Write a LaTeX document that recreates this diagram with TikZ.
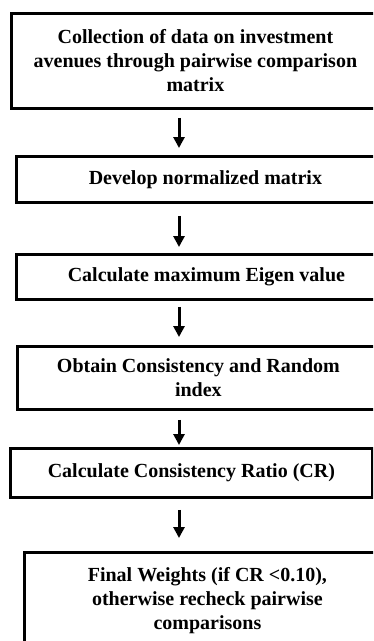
\documentclass[tikz,border=0pt]{standalone}
\usepackage{fontspec}
\setmainfont{Liberation Serif}
\usepackage{tikz}
\usetikzlibrary{positioning,arrows.meta,calc}

\tikzset{
  stepbox/.style={draw, line width=2.8pt, anchor=north west, align=center, inner sep=0pt,
    font=\bfseries\fontsize{20}{24}\selectfont},
  flow/.style={-{Triangle[width=11pt,length=11pt]}, line width=3pt}
}

\begin{document}
\begin{tikzpicture}[x=1pt,y=-1pt]
\useasboundingbox (0,0) rectangle (373,641);
\clip (0,0) rectangle (373,641);
\coordinate (ax) at (179,0);
\node[stepbox, minimum width=368pt, minimum height=95pt] (collect) at (10,12)
    {Collection of data on investment\\ avenues through pairwise comparison\\ matrix};
\node[stepbox, minimum width=378pt, minimum height=46pt] (normal) at (15,155)
    {Develop normalized matrix};
\node[stepbox, minimum width=380pt, minimum height=45pt] (eigen) at (15,253)
    {Calculate maximum Eigen value};
\node[stepbox, minimum width=362pt, minimum height=63pt] (index) at (16,345)
    {Obtain Consistency and Random\\ index};
\node[stepbox, minimum width=362pt, minimum height=49pt] (ratio) at (9,447)
    {Calculate Consistency Ratio (CR)};
\node[stepbox, minimum width=366pt, minimum height=96pt] (weights) at (23,551)
    {Final Weights (if CR <0.10),\\ otherwise recheck pairwise\\ comparisons};
\draw[flow, shorten <=8pt, shorten >=7pt] (collect.south -| ax) -- (normal.north -| ax);
\draw[flow, shorten <=12pt, shorten >=6pt] (normal.south -| ax) -- (eigen.north -| ax);
\draw[flow, shorten <=6pt, shorten >=8pt] (eigen.south -| ax) -- (index.north -| ax);
\draw[flow, shorten <=9pt, shorten >=2pt] (index.south -| ax) -- (ratio.north -| ax);
\draw[flow, shorten <=11pt, shorten >=13pt] (ratio.south -| ax) -- (weights.north -| ax);
\end{tikzpicture}
\end{document}
